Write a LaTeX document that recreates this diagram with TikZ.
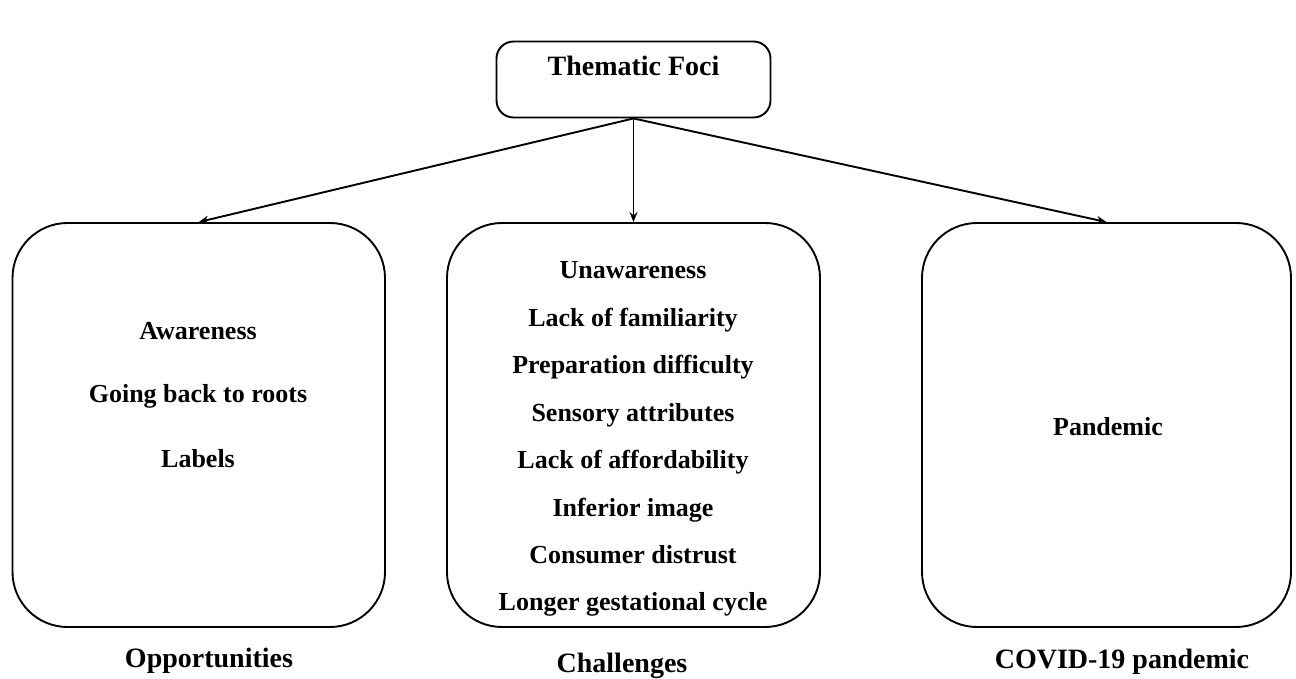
\documentclass[tikz,border=0pt]{standalone}
\usepackage{fontspec}
\setmainfont{Liberation Serif}
\usetikzlibrary{arrows.meta}

\begin{document}
\begin{tikzpicture}[x=1pt,y=1pt,
  topbox/.style={draw,line width=1.9pt,rounded corners=17pt,minimum width=274pt,minimum height=76pt},
  bigbox/.style={draw,line width=1.9pt,rounded corners=55pt,minimum height=404pt},
  item/.style={anchor=base,font=\bfseries\fontsize{26}{30}\selectfont},
  caption/.style={anchor=base,font=\bfseries\fontsize{28}{32}\selectfont},
  arr/.style={-{Stealth[length=10pt,width=8pt]},line width=1.9pt}]
\useasboundingbox (0,0) rectangle (1296,678);
\node[topbox] (foci) at (633.5,598.5) {};
\node[caption] (focitext) at (633.5,602) {Thematic Foci};
\node[bigbox,minimum width=372.5pt] (opp) at (198.75,253) {};
\node[bigbox,minimum width=373pt] (chal) at (633.5,253) {};
\node[bigbox,minimum width=369pt] (covid) at (1106.5,253) {};
\draw[arr] (foci.south) -- (opp.north);
\draw[arr] (foci.south) -- (chal.north);
\draw[arr] (foci.south) -- (covid.north);
% opportunities
\node[item] (aware) at (198,338) {Awareness};
\node[item] (roots) at (198,275) {Going back to roots};
\node[item] (labels) at (198,211) {Labels};
% challenges
\node[item] (unaware) at (633,399) {Unawareness};
\node[item] (familiar) at (633,351.6) {Lack of familiarity};
\node[item] (prep) at (633,304.2) {Preparation difficulty};
\node[item] (sensory) at (633,256.8) {Sensory attributes};
\node[item] (afford) at (633,209.4) {Lack of affordability};
\node[item] (inferior) at (633,162) {Inferior image};
\node[item] (distrust) at (633,114.6) {Consumer distrust};
\node[item] (cycle) at (633,67.2) {Longer gestational cycle};
% covid
\node[item] (pandemic) at (1108,242) {Pandemic};
\node[caption] (opptext) at (209,11) {Opportunities};
\node[caption] (chaltext) at (622,6) {Challenges};
\node[caption] (covidtext) at (1122,10) {COVID-19 pandemic};
\end{tikzpicture}
\end{document}
